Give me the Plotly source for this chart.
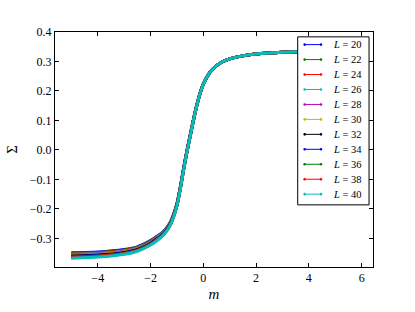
import plotly.graph_objects as go

m = [-5, -4, -3, -2.5, -2, -1.75, -1.5, -1.25, -1, -0.875, -0.75, -0.625,
     -0.5, -0.375, -0.25, -0.125, 0]
m_right = [0.25, 0.5, 0.75, 1, 1.5, 2, 3, 4, 5, 6]
sigma_right = [0.263, 0.286, 0.300, 0.309, 0.319, 0.325, 0.331, 0.334, 0.336, 0.337]

L_values = [20, 22, 24, 26, 28, 30, 32, 34, 36, 38, 40]
sigma_left = {
    20: [-0.349, -0.3465, -0.338, -0.3285, -0.3075, -0.293, -0.276, -0.245, -0.182, -0.1275, -0.064, -0.0045, 0.049, 0.1025, 0.151, 0.192, 0.2235],
    22: [-0.3508, -0.3482, -0.3396, -0.33, -0.309, -0.2944, -0.2772, -0.246, -0.1828, -0.1282, -0.0646, -0.005, 0.0486, 0.1022, 0.1508, 0.1918, 0.2234],
    24: [-0.3526, -0.3499, -0.3412, -0.3315, -0.3105, -0.2958, -0.2784, -0.247, -0.1836, -0.1289, -0.0652, -0.0055, 0.0482, 0.1019, 0.1506, 0.1916, 0.2233],
    26: [-0.3544, -0.3516, -0.3428, -0.333, -0.312, -0.2972, -0.2796, -0.248, -0.1844, -0.1296, -0.0658, -0.006, 0.0478, 0.1016, 0.1504, 0.1914, 0.2232],
    28: [-0.3562, -0.3533, -0.3444, -0.3345, -0.3135, -0.2986, -0.2808, -0.249, -0.1852, -0.1303, -0.0664, -0.0065, 0.0474, 0.1013, 0.1502, 0.1912, 0.2231],
    30: [-0.358, -0.355, -0.346, -0.336, -0.315, -0.300, -0.282, -0.250, -0.186, -0.131, -0.067, -0.007, 0.047, 0.101, 0.150, 0.191, 0.223],
    32: [-0.3598, -0.3567, -0.3476, -0.3375, -0.3165, -0.3014, -0.2832, -0.251, -0.1868, -0.1317, -0.0676, -0.0075, 0.0466, 0.1007, 0.1498, 0.1908, 0.2229],
    34: [-0.3616, -0.3584, -0.3492, -0.339, -0.318, -0.3028, -0.2844, -0.252, -0.1876, -0.1324, -0.0682, -0.008, 0.0462, 0.1004, 0.1496, 0.1906, 0.2228],
    36: [-0.3634, -0.3601, -0.3508, -0.3405, -0.3195, -0.3042, -0.2856, -0.253, -0.1884, -0.1331, -0.0688, -0.0085, 0.0458, 0.1001, 0.1494, 0.1904, 0.2227],
    38: [-0.3652, -0.3618, -0.3524, -0.342, -0.321, -0.3056, -0.2868, -0.254, -0.1892, -0.1338, -0.0694, -0.009, 0.0454, 0.0998, 0.1492, 0.1902, 0.2226],
    40: [-0.367, -0.3635, -0.354, -0.3435, -0.3225, -0.307, -0.288, -0.255, -0.190, -0.1345, -0.070, -0.0095, 0.045, 0.0995, 0.149, 0.190, 0.2225],
}
colors = ["#0000ff", "#008000", "#ff0000", "#00bfbf", "#bf00bf", "#bfbf00",
          "#000000", "#0000ff", "#008000", "#ff0000", "#00bfbf"]

x_ticks = [-4, -2, 0, 2, 4, 6]
y_ticks = [-0.3, -0.2, -0.1, 0.0, 0.1, 0.2, 0.3, 0.4]

FONT = "Liberation Serif"

fig = go.Figure()
for L, c in zip(L_values, colors):
    fig.add_trace(go.Scatter(
        x=m + m_right, y=sigma_left[L] + sigma_right,
        mode="lines", line=dict(color=c, width=3, shape="spline", smoothing=0.6),
        showlegend=False, name=f"L = {L}"))

# plot area geometry in pixels (for manual legend placement)
W, H = 415, 312
ml, mr, mt, mb = 52, 42, 32, 38
pw, ph = W - ml - mr, H - mt - mb

def px(xp):
    return (xp - ml) / pw

def py(yp):
    return (H - mb - yp) / ph

shapes = [dict(type="rect", xref="paper", yref="paper",
               x0=px(297), x1=px(369), y0=py(210), y1=py(37),
               line=dict(color="black", width=1), fillcolor="white", layer="above")]
annotations = []
for i, (L, c) in enumerate(zip(L_values, colors)):
    yy = py(45 + i * 15.4)
    shapes.append(dict(type="line", xref="paper", yref="paper",
                       x0=px(304), x1=px(320.5), y0=yy, y1=yy,
                       line=dict(color=c, width=1), layer="above"))
    for xe in (304, 320.5):
        shapes.append(dict(type="circle", xref="paper", yref="paper",
                           xsizemode="pixel", ysizemode="pixel",
                           xanchor=px(xe), yanchor=yy,
                           x0=-1.3, x1=1.3, y0=-1.3, y1=1.3,
                           fillcolor=c, line=dict(color=c, width=0), layer="above"))
    annotations.append(dict(xref="paper", yref="paper", x=px(331), y=yy,
                            xanchor="left", yanchor="middle", showarrow=False,
                            text=f"<i>L</i> = {L}",
                            font=dict(family=FONT, size=10.5, color="black")))

axis_common = dict(showline=True, linecolor="black", linewidth=1, mirror="ticks",
                   ticks="inside", ticklen=4, tickcolor="black", tickwidth=1,
                   showgrid=False, zeroline=False,
                   tickfont=dict(family=FONT, size=12, color="black"))

fig.update_layout(
    width=W, height=H,
    margin=dict(l=ml, r=mr, t=mt, b=mb),
    paper_bgcolor="white", plot_bgcolor="white",
    xaxis=dict(range=[-5.62, 6.43], tickvals=x_ticks,
               title=dict(text="<i>m</i>", font=dict(family=FONT, size=15, color="black"), standoff=4),
               **axis_common),
    yaxis=dict(range=[-0.397, 0.4], tickvals=y_ticks, tickformat=".1f",
               title=dict(text="Σ", font=dict(family=FONT, size=14, color="black"), standoff=8),
               **axis_common),
    shapes=shapes, annotations=annotations,
    showlegend=False,
)

fig.write_html("out.html", config={"displayModeBar": False},
               post_script="document.body.style.margin='0';document.body.style.padding='0';")
